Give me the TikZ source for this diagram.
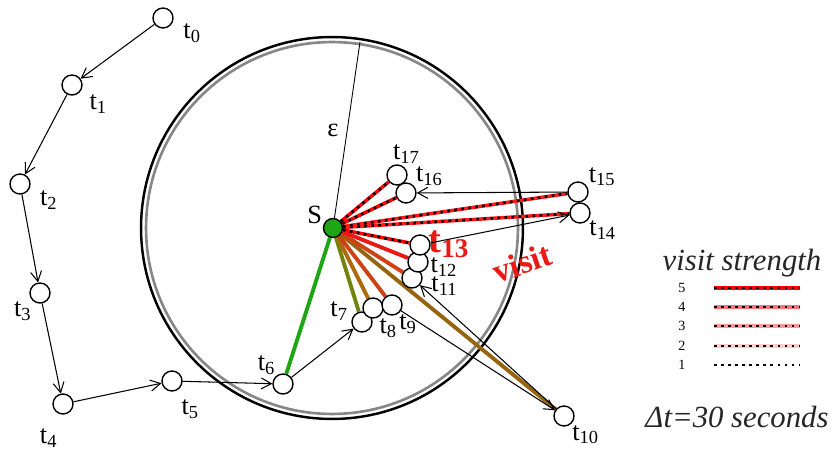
\documentclass[tikz,border=0pt]{standalone}
\usepackage{fontspec}
\setmainfont{Liberation Serif}
\usetikzlibrary{arrows.meta, backgrounds}
\definecolor{visGreen}{RGB}{30,165,20}
\definecolor{visOlive}{RGB}{115,130,10}
\definecolor{visOchre}{RGB}{175,105,10}
\definecolor{visRust}{RGB}{205,65,20}
\definecolor{visBrown}{RGB}{150,100,15}
\definecolor{visRed}{RGB}{235,25,20}
\definecolor{ringGray}{RGB}{135,135,135}
\newcommand{\tlab}[1]{t\textsubscript{#1}}

\begin{document}
\begin{tikzpicture}[x=0.02cm, y=-0.02cm,
    tpt/.style={circle, draw=black, line width=0.8pt, fill=white, minimum size=0.4cm, inner sep=0pt},
    lab/.style={font=\fontsize{15}{15}\selectfont, inner sep=0.5pt},
    arr/.style={-{Straight Barb[length=2mm, width=2.2mm]}, line width=0.6pt},
    visit/.style={draw=#1, line width=2.2pt},
    strong/.style={draw=red!#1, line width=2pt, postaction={draw=black, line width=1.5pt, dash pattern=on 1.5pt off 2.5pt}},
    legtxt/.style={font=\fontsize{17.5}{18}\selectfont\itshape, text=black!85},
    num/.style={font=\fontsize{8}{8}\selectfont, inner sep=0.5pt}
]
\useasboundingbox (0,0) rectangle (838,452);

% --- trajectory t0 ... t5 (outside the region) ---
\node[tpt, label={[lab, xshift=5.5pt]-27:\tlab{0}}] (t0) at (163,18) {};
\node[tpt, label={[lab, xshift=4.5pt, yshift=-1pt]-38:\tlab{1}}] (t1) at (72,85) {};
\node[tpt, label={[lab, xshift=5.5pt]-30:\tlab{2}}] (t2) at (20,184) {};
\node[tpt, label={[lab]-133:\tlab{3}}] (t3) at (40,293) {};
\node[tpt, label={[lab, yshift=-8pt]-114:\tlab{4}}] (t4) at (63,404) {};
\node[tpt, label={[lab, xshift=1.5pt, yshift=-5pt]-58:\tlab{5}}] (t5) at (172,381) {};

% --- stay point and its radius ---
\coordinate (ctr) at (332,228);
\coordinate (rim) at (360,42);
\node[tpt, fill=visGreen, minimum size=0.38cm, label={[lab]165:S}] (S) at (333,228) {};
\node[lab] (eps) at (333,130) {ε};

% --- fixes inside (and just outside) the region ---
\node[tpt, label={[lab]127:\tlab{6}}] (t6) at (283,384) {};
\node[tpt, label={[lab, xshift=-1.5pt, yshift=-1.5pt]164:\tlab{7}}] (t7) at (362,322) {};
\node[tpt, label={[lab]-60:\tlab{8}}] (t8) at (373,308) {};
\node[tpt, label={[lab]-55:\tlab{9}}] (t9) at (392,305) {};
\node[tpt, label={[lab]-48:\tlab{10}}] (t10) at (564,416) {};
\node[tpt, label={[lab, xshift=4.5pt, yshift=3pt]-16:\tlab{11}}] (t11) at (412,278) {};
\node[tpt, label={[lab, xshift=0.5pt, yshift=4.5pt]-13:\tlab{12}}] (t12) at (418,262) {};
\node[tpt, label={[lab, text=visRed, font=\fontsize{22}{22}\selectfont\bfseries, xshift=-2pt, yshift=-8.5pt]5:\tlab{13}}] (t13) at (420,245) {};
\node[tpt, label={[lab]-40:\tlab{14}}] (t14) at (580,213) {};
\node[tpt, label={[lab]26:\tlab{15}}] (t15) at (578,192) {};
\node[tpt, label={[lab]34:\tlab{16}}] (t16) at (406,193) {};
\node[tpt, label={[lab, xshift=-5pt]70:\tlab{17}}] (t17) at (397,175) {};

\node[text=visRed, font=\fontsize{19}{19}\selectfont\bfseries, rotate=19] (vis) at (522,263) {visit};

% --- legend ---
\node[legtxt] (leg) at (742,263) {visit strength};
\node[num] (s5) at (682,288) {5};
\node[num] (s4) at (682,307) {4};
\node[num] (s3) at (682,326) {3};
\node[num] (s2) at (682,346) {2};
\node[num] (s1) at (682,365) {1};
\draw[strong=100] ([xshift=0.55cm]s5.east) -- +(86,0);
\draw[strong=55] ([xshift=0.55cm]s4.east) -- +(86,0);
\draw[strong=40] ([xshift=0.55cm]s3.east) -- +(86,0);
\draw[strong=20] ([xshift=0.55cm]s2.east) -- +(86,0);
\draw[strong=0] ([xshift=0.55cm]s1.east) -- +(86,0);
\node[legtxt] (dt) at (737,417) {Δt=30 seconds};

% --- region, radius and visit lines ---
\begin{scope}[on background layer]
\draw[black, line width=1.4pt] (ctr) circle[radius=3.82cm];
\draw[ringGray, line width=1.5pt] (ctr) circle[radius=3.72cm];
\draw[line width=0.5pt] (S) -- (rim);
\draw[visit=visGreen] (S) -- (t6);
\draw[visit=visOlive] (S) -- (t7);
\draw[visit=visOchre] (S) -- (t8);
\draw[visit=visRust] (S) -- (t9);
\draw[visit=visBrown] (S) -- (t10);
\draw[visit=visRust] (S) -- (t11);
\draw[visit=visRed] (S) -- (t12);
\draw[strong=100] (S) -- (t13);
\draw[strong=90] (S) -- (t14);
\draw[strong=90] (S) -- (t15);
\draw[strong=100] (S) -- (t16);
\draw[strong=100] (S) -- (t17);
\end{scope}

% --- movement between fixes ---
\draw[arr] (t0) -- (t1);
\draw[arr] (t1) -- (t2);
\draw[arr] (t2) -- (t3);
\draw[arr] (t3) -- (t4);
\draw[arr] (t4) -- (t5);
\draw[arr] (t5) -- (t6);
\draw[arr] (t6) -- (t7);
\draw[arr] (t9) -- (t10);
\draw[arr] (t10) -- (t11);
\draw[arr] (t13) -- (t14);
\draw[arr] (t15) -- (t16);

\end{tikzpicture}
\end{document}
